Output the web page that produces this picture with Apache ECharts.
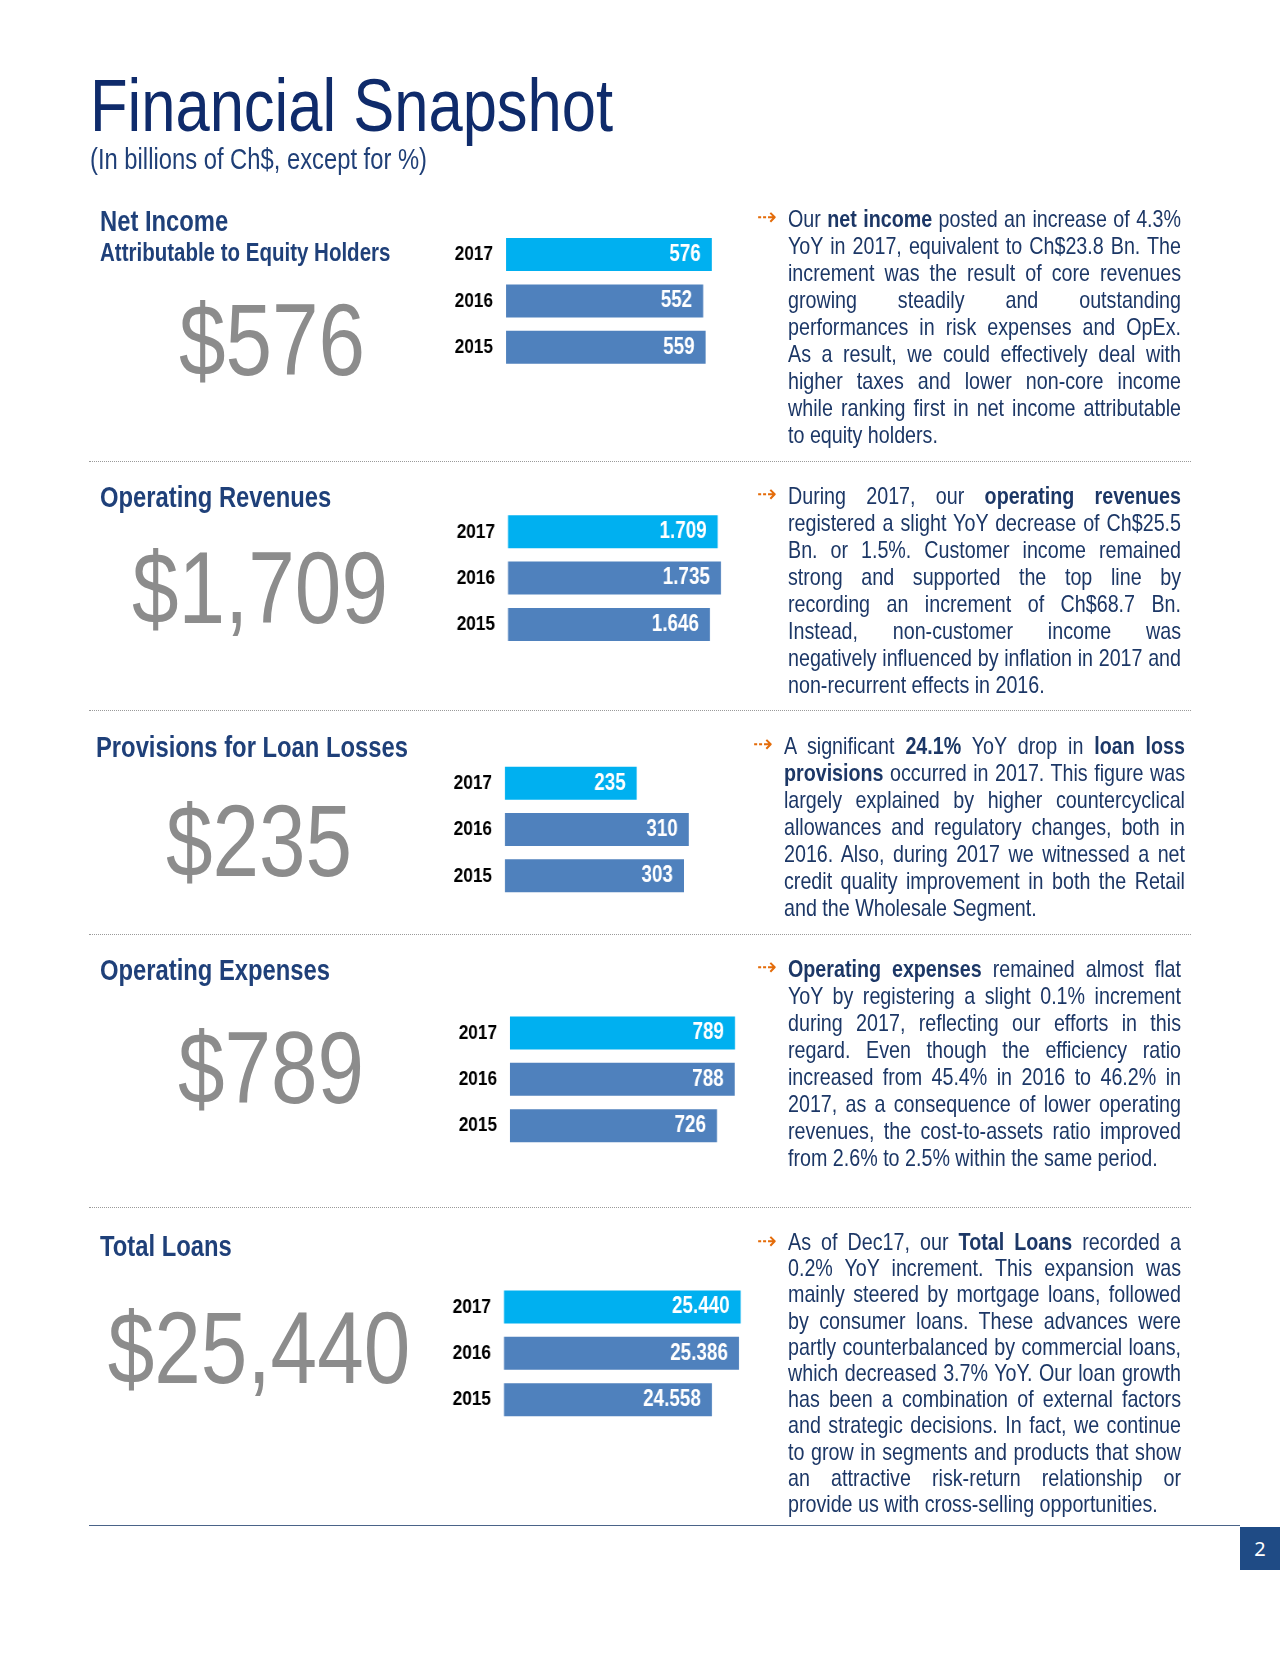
<!DOCTYPE html>
<html><head><meta charset="utf-8">
<script src="https://cdn.jsdelivr.net/npm/echarts@6/dist/echarts.min.js"></script>
<style>
html,body{margin:0;padding:0;background:#fff;}
#page{position:relative;width:1280px;height:1656px;overflow:hidden;background:#fff;}
#chart{position:absolute;left:0;top:0;width:1561px;height:1656px;transform:scaleX(0.82);transform-origin:0 0;}
.t{position:absolute;white-space:nowrap;line-height:1;font-family:'Liberation Sans',Arial,sans-serif;transform-origin:0 0;}
.para{position:absolute;font-family:'Liberation Sans',Arial,sans-serif;color:#1c3766;font-size:24px;transform:scaleX(0.82);transform-origin:0 0;}
.line{text-align:justify;text-align-last:justify;white-space:nowrap;}
.line.last{text-align:left;text-align-last:left;}
.arrow{position:absolute;font-family:'DejaVu Sans',sans-serif;color:#e46c0a;font-size:24px;white-space:nowrap;}
.sep{position:absolute;left:89px;width:1102px;height:0;border-top:1px dotted #9a9a9a;}
</style>
</head><body>
<div id="page">
  <div id="chart"></div>
  <div id="overlay"></div>
</div>
<script>
// ---------- data ----------
const years = ['2017', '2016', '2015'];
const netIncome = [576, 552, 559];
const opRevenues = [1709, 1735, 1646];
const provisions = [235, 310, 303];
const opExpenses = [789, 788, 726];
const totalLoans = [25440, 25386, 24558];

const sectionTitles = ['Net Income', 'Operating Revenues', 'Provisions for Loan Losses', 'Operating Expenses', 'Total Loans'];

const para1 = [
  'Our <b>net income</b> posted an increase of 4.3%',
  'YoY in 2017, equivalent to Ch$23.8 Bn. The',
  'increment was the result of core revenues',
  'growing steadily and outstanding',
  'performances in risk expenses and OpEx.',
  'As a result, we could effectively deal with',
  'higher taxes and lower non-core income',
  'while ranking first in net income attributable',
  'to equity holders.'
];
const para2 = [
  'During 2017, our <b>operating revenues</b>',
  'registered a slight YoY decrease of Ch$25.5',
  'Bn. or 1.5%. Customer income remained',
  'strong and supported the top line by',
  'recording an increment of Ch$68.7 Bn.',
  'Instead, non-customer income was',
  'negatively influenced by inflation in 2017 and',
  'non-recurrent effects in 2016.'
];
const para3 = [
  'A significant <b>24.1%</b> YoY drop in <b>loan loss</b>',
  '<b>provisions</b> occurred in 2017. This figure was',
  'largely explained by higher countercyclical',
  'allowances and regulatory changes, both in',
  '2016. Also, during 2017 we witnessed a net',
  'credit quality improvement in both the Retail',
  'and the Wholesale Segment.'
];
const para4 = [
  '<b>Operating expenses</b> remained almost flat',
  'YoY by registering a slight 0.1% increment',
  'during 2017, reflecting our efforts in this',
  'regard. Even though the efficiency ratio',
  'increased from 45.4% in 2016 to 46.2% in',
  '2017, as a consequence of lower operating',
  'revenues, the cost-to-assets ratio improved',
  'from 2.6% to 2.5% within the same period.'
];
const para5 = [
  'As of Dec17, our <b>Total Loans</b> recorded a',
  '0.2% YoY increment. This expansion was',
  'mainly steered by mortgage loans, followed',
  'by consumer loans. These advances were',
  'partly counterbalanced by commercial loans,',
  'which decreased 3.7% YoY. Our loan growth',
  'has been a combination of external factors',
  'and strategic decisions. In fact, we continue',
  'to grow in segments and products that show',
  'an attractive risk-return relationship or',
  'provide us with cross-selling opportunities.'
];

// ---------- layout ----------
const SX = 0.82; // horizontal condensing (Arial Narrow look)
const FONT = "'Liberation Sans',Arial,sans-serif";
const C2017 = '#00b0f0', COLD = '#4f81bd';
const sections = [
  { values: netIncome,  gridTop: 231.4,  gridLeft: 506, min: 0,     max: 728,   titleY: 232,  bigCx: 272, bigY: 375,    para: para1, pTop: 205,  pLeft: 788, pW: 393, lh: 27 },
  { values: opRevenues, gridTop: 508.6,  gridLeft: 508, min: 0,     max: 2119,  titleY: 508,  bigCx: 260, bigY: 623,    para: para2, pTop: 482,  pLeft: 788, pW: 393, lh: 27 },
  { values: provisions, gridTop: 760,    gridLeft: 505, min: 45,    max: 420,   titleY: 758,  bigCx: 259, bigY: 876.6,  para: para3, pTop: 732,  pLeft: 784, pW: 401, lh: 27, titleX: 96 },
  { values: opExpenses, gridTop: 1009.8, gridLeft: 510, min: 0,     max: 912,   titleY: 981,  bigCx: 271, bigY: 1103.6, para: para4, pTop: 955,  pLeft: 788, pW: 393, lh: 27 },
  { values: totalLoans, gridTop: 1283.8, gridLeft: 504, min: 18200, max: 26154, titleY: 1257, bigCx: 259, bigY: 1383.5, para: para5, pTop: 1229, pLeft: 788, pW: 393, lh: 26.2 }
];

function fmtDot(v) { return String(v).replace(/\B(?=(\d{3})+(?!\d))/g, '.'); }
function fmtComma(v) { return String(v).replace(/\B(?=(\d{3})+(?!\d))/g, ','); }

const overlay = document.getElementById('overlay');
function addText(html, x, baseline, size, style, center) {
  const d = document.createElement('div');
  d.className = 't';
  d.innerHTML = html;
  d.style.fontSize = size + 'px';
  d.style.top = (baseline - 0.8464 * size) + 'px';
  d.style.left = x + 'px';
  if (center) { d.style.transformOrigin = '50% 0'; d.style.transform = 'translateX(-50%) scaleX(' + SX + ')'; }
  else d.style.transform = 'scaleX(' + SX + ')';
  Object.assign(d.style, style || {});
  overlay.appendChild(d);
  return d;
}

// title
addText('Financial Snapshot', 90, 131, 75, { color: '#0f2b6b' });
addText('(In billions of Ch$, except for %)', 90, 170, 29, { color: '#1f3f77' });
addText('Attributable to Equity Holders', 100, 261, 25, { color: '#1f4079', fontWeight: 'bold' });

sections.forEach((s, i) => {
  addText(sectionTitles[i], s.titleX || 100, s.titleY, 29, { color: '#1f4079', fontWeight: 'bold' });
  addText('$' + fmtComma(s.values[0]), s.bigCx, s.bigY, 102, { color: '#8c8c8c' }, true);
  const p = document.createElement('div');
  p.className = 'para';
  p.style.left = s.pLeft + 'px';
  p.style.top = s.pTop + 'px';
  p.style.width = (s.pW / SX) + 'px';
  s.para.forEach((ln, j) => {
    const l = document.createElement('div');
    l.className = 'line' + (j === s.para.length - 1 ? ' last' : '');
    l.style.height = s.lh + 'px';
    l.style.lineHeight = s.lh + 'px';
    l.innerHTML = ln;
    p.appendChild(l);
  });
  overlay.appendChild(p);
  const a = document.createElement('div');
  a.className = 'arrow';
  a.textContent = '\u21E2';
  a.style.left = (s.pLeft - 31) + 'px';
  a.style.top = (s.pTop - 1) + 'px';
  a.style.height = s.lh + 'px';
  a.style.lineHeight = s.lh + 'px';
  overlay.appendChild(a);
});

// separators
[460.5, 709.7, 933.6, 1207].forEach(y => {
  const d = document.createElement('div');
  d.className = 'sep';
  d.style.top = y + 'px';
  overlay.appendChild(d);
});
// bottom rule + page number
const rule = document.createElement('div');
Object.assign(rule.style, { position: 'absolute', left: '89px', top: '1525px', width: '1151px', height: '0', borderTop: '1.5px solid #4a6388' });
overlay.appendChild(rule);
const box = document.createElement('div');
Object.assign(box.style, { position: 'absolute', left: '1240px', top: '1527px', width: '40px', height: '43px', background: '#1f4b85', color: '#fff', fontFamily: "'Noto Sans',sans-serif", fontSize: '20px', lineHeight: '43px', textAlign: 'center' });
box.textContent = '2';
overlay.appendChild(box);

// ---------- chart (drawn in a wider canvas, condensed horizontally by SX) ----------
const chart = echarts.init(document.getElementById('chart'), null, { renderer: 'canvas' });
const grid = [], xAxis = [], yAxis = [], series = [];
sections.forEach((s, i) => {
  grid.push({ left: s.gridLeft / SX, top: s.gridTop, width: 260 / SX, height: 139 });
  xAxis.push({ type: 'value', gridIndex: i, min: s.min, max: s.max, show: false });
  yAxis.push({
    type: 'category', gridIndex: i, data: years, inverse: true,
    axisLine: { show: false }, axisTick: { show: false }, splitLine: { show: false },
    axisLabel: { margin: 13 / SX, fontSize: 21, fontWeight: 'bold', color: '#000', fontFamily: FONT }
  });
  series.push({
    type: 'bar', xAxisIndex: i, yAxisIndex: i, barWidth: 33, silent: true,
    data: s.values.map((v, j) => ({ value: v, itemStyle: { color: j === 0 ? C2017 : COLD } })),
    label: {
      show: true, position: 'insideRight', distance: 11 / SX, color: '#fff',
      fontSize: 23, fontWeight: 'bold', fontFamily: FONT,
      formatter: p => fmtDot(p.value)
    }
  });
});
chart.setOption({ animation: false, grid, xAxis, yAxis, series });
</script>
</body></html>
